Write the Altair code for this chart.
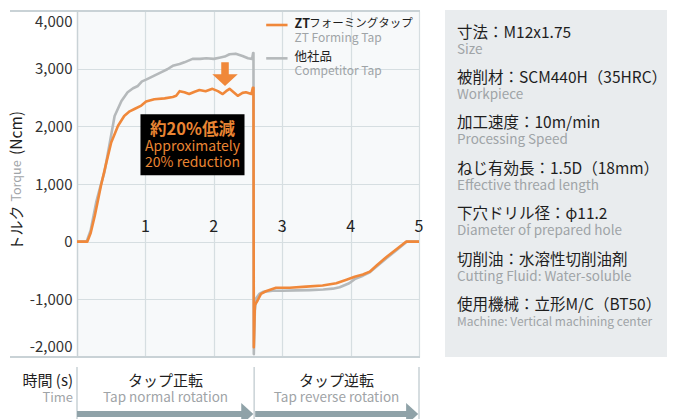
import altair as alt
import pandas as pd

FONT = "Noto Sans CJK JP"
ORANGE = "#f0883a"
ORANGE_TXT = "#ea8533"
GREY_LINE = "#b5b9bb"
GRID = "#d6dee1"
BORDER = "#c9d2d6"
BLACK = "#1e1e1e"
GREY_TXT = "#9fa4a7"
ARROW = "#8fa2a8"
PANEL = "#e9ecee"

# ---- data (time s, torque Ncm) ----
zt_t = [0, 0.15, 0.20, 0.26, 0.35, 0.43, 0.50, 0.60, 0.69, 0.77, 0.84, 0.94, 1.01, 1.13,
        1.28, 1.40, 1.45, 1.50, 1.57, 1.64, 1.72, 1.79, 1.88, 1.98, 2.06, 2.13, 2.18, 2.23,
        2.29, 2.35, 2.42, 2.47, 2.55, 2.57, 2.58, 2.585, 2.60, 2.64, 2.69, 2.76, 2.91, 3.11,
        3.35, 3.59, 3.79, 3.94, 4.06, 4.18, 4.28, 4.38, 4.52, 4.67, 4.81, 5.0]
zt_v = [0, 0, 150, 450, 970, 1375, 1720, 2010, 2180, 2260, 2300, 2360, 2430, 2470,
        2485, 2510, 2530, 2610, 2590, 2560, 2600, 2630, 2610, 2650, 2610, 2560, 2610, 2650,
        2590, 2530, 2580, 2590, 2560, 2670, 2670, -1830, -1100, -1020, -905, -860, -800, -800,
        -780, -760, -720, -660, -610, -570, -520, -415, -270, -130, 0, 0]

comp_t = [0, 0.14, 0.20, 0.28, 0.34, 0.40, 0.48, 0.55, 0.65, 0.74, 0.82, 0.89, 0.95, 1.01,
          1.13, 1.25, 1.32, 1.40, 1.50, 1.57, 1.69, 1.80, 1.89, 2.00, 2.08, 2.16, 2.23, 2.32,
          2.42, 2.50, 2.56, 2.575, 2.58, 2.585, 2.60, 2.62, 2.67, 2.72, 2.86, 3.0, 3.2, 3.4,
          3.6, 3.74, 3.84, 3.98, 4.06, 4.18, 4.28, 4.38, 4.52, 4.67, 4.82, 5.0]
comp_v = [0, 0, 200, 680, 950, 1200, 1720, 2180, 2440, 2590, 2660, 2700, 2780, 2810,
          2880, 2950, 2990, 3050, 3080, 3110, 3170, 3170, 3180, 3170, 3190, 3210, 3250, 3260,
          3220, 3180, 3170, 3270, 3270, -1950, -1200, -980, -900, -870, -850, -850, -845, -840,
          -830, -815, -790, -720, -650, -590, -530, -430, -290, -150, 0, 0]

series_jp = ["ZTフォーミングタップ", "他社品"]
series_en = ["ZT Forming Tap", "Competitor Tap"]
y_ticks = [-2000, -1000, 0, 1000, 2000, 3000, 4000]
x_ticks = [1, 2, 3, 4, 5]

phase_jp = ["タップ正転", "タップ逆転"]
phase_en = ["Tap normal rotation", "Tap reverse rotation"]
phase_start = [0, 2.59]
phase_end = [2.59, 5.0]

spec_jp = ["寸法：M12x1.75", "被削材：SCM440H（35HRC）", "加工速度：10m/min",
           "ねじ有効長：1.5D（18mm）", "下穴ドリル径：φ11.2", "切削油：水溶性切削油剤",
           "使用機械：立形M/C（BT50）"]
spec_en = ["Size", "Workpiece", "Processing Speed", "Effective thread length",
           "Diameter of prepared hole", "Cutting Fluid: Water-soluble",
           "Machine: Vertical machining center"]

W, H = 342, 346
PAD = {"left": 69, "top": 3, "right": 248, "bottom": 62}

xscale = alt.Scale(domain=[0, 5], nice=False, zero=False)
yscale = alt.Scale(domain=[-2000, 4000], nice=False, zero=False)

zt_df = pd.DataFrame({"t": zt_t, "v": zt_v, "i": range(len(zt_t))})
comp_df = pd.DataFrame({"t": comp_t, "v": comp_v, "i": range(len(comp_t))})

one = pd.DataFrame({"a": [0]})


def txt(label, x, y, size, color, align="left", baseline="middle", weight="normal", angle=0):
    return alt.Chart(pd.DataFrame({"label": [label]})).mark_text(
        align=align, baseline=baseline, fontSize=size, color=color,
        fontWeight=weight, font=FONT, angle=angle
    ).encode(x=x, y=y, text="label:N")


layers = []

# right panel background
layers.append(alt.Chart(one).mark_rect(color=PANEL).encode(
    x=alt.value(368), x2=alt.value(590), y=alt.value(-1), y2=alt.value(346)))

# competitor line (with axes)
layers.append(alt.Chart(comp_df).mark_line(color=GREY_LINE, strokeWidth=2.6, strokeJoin="round").encode(
    x=alt.X("t:Q", scale=xscale, axis=alt.Axis(values=x_ticks, grid=True, labels=False, ticks=False,
                                                domain=False, title=None, gridColor=GRID, gridWidth=1.2)),
    y=alt.Y("v:Q", scale=yscale, axis=alt.Axis(values=y_ticks, grid=True, gridColor=GRID,
                                                labelExpr="replace(format(datum.value, ',.0f'), '\u2212', '-')",
                                                gridWidth=1.2, ticks=False, tickSize=0, labelPadding=5,
                                                labelFontSize=15, labelColor="#333333", labelFont=FONT,
                                                labelFlush=True, labelFlushOffset=-3, domain=True,
                                                domainColor=BORDER, domainWidth=1.5, title=None)),
    order="i:Q"))

# ZT line
layers.append(alt.Chart(zt_df).mark_line(color=ORANGE, strokeWidth=2.6, strokeJoin="round").encode(
    x=alt.X("t:Q", scale=xscale), y=alt.Y("v:Q", scale=yscale), order="i:Q"))

# top / bottom borders extending left
for b in (4000, -2000):
    layers.append(alt.Chart(one).mark_rule(color=BORDER, strokeWidth=2).encode(
        y=alt.datum(b), x=alt.value(-67), x2=alt.value(343)))

# x tick labels inside plot
layers.append(alt.Chart(pd.DataFrame({"t": x_ticks, "lab": [str(k) for k in x_ticks]})).mark_text(
    fontSize=16, color="#222222", font=FONT, baseline="middle", align="center").encode(
    x=alt.X("t:Q", scale=xscale), y=alt.datum(254), text="lab:N"))

# annotation box
layers.append(alt.Chart(one).mark_rect(color="#000000").encode(
    x=alt.datum(0.928), x2=alt.datum(2.449), y=alt.datum(2210), y2=alt.datum(1150)))
layers.append(txt("約20%低減", alt.datum(1.689), alt.datum(1937), 16.5, ORANGE_TXT, align="center", weight="bold"))
layers.append(txt("Approximately", alt.datum(1.689), alt.datum(1642), 14, ORANGE_TXT, align="center"))
layers.append(txt("20% reduction", alt.datum(1.689), alt.datum(1364), 14, ORANGE_TXT, align="center"))

# down arrow
layers.append(alt.Chart(one).mark_point(
    shape="M-0.29,-0.92 L0.29,-0.92 L0.29,0 L0.98,0 L0,0.92 L-0.98,0 L-0.29,0 Z",
    filled=True, color=ORANGE, opacity=1, size=676, strokeWidth=0).encode(
    x=alt.datum(2.164), y=alt.datum(2905)))

# legend
layers.append(alt.Chart(one).mark_rule(color=ORANGE, strokeWidth=2.6).encode(
    x=alt.datum(2.766), x2=alt.datum(3.078), y=alt.datum(3757)))
layers.append(alt.Chart(one).mark_rule(color=GREY_LINE, strokeWidth=2.6).encode(
    x=alt.datum(2.766), x2=alt.datum(3.078), y=alt.datum(3179)))
layers.append(txt("ZT", alt.datum(3.18), alt.datum(3780), 12.5, BLACK, weight="bold"))
layers.append(txt(series_jp[0][2:], alt.datum(3.395), alt.datum(3780), 11.5, BLACK))
layers.append(txt(series_en[0], alt.datum(3.18), alt.datum(3525), 12, GREY_TXT))
layers.append(txt(series_jp[1], alt.datum(3.18), alt.datum(3205), 12.5, BLACK))
layers.append(txt(series_en[1], alt.datum(3.18), alt.datum(2955), 12, GREY_TXT))

# y-axis title (rotated pieces)
layers.append(txt("(Ncm)", alt.value(-60), alt.value(122), 15.5, BLACK, align="center", angle=270))
layers.append(txt("Torque", alt.value(-60), alt.value(170), 12.5, GREY_TXT, align="center", angle=270))
layers.append(txt("トルク", alt.value(-60), alt.value(217), 15, BLACK, align="center", angle=270))

# bottom: time label and phases
layers.append(txt("時間 (s)", alt.value(-4), alt.value(370), 15, BLACK, align="right"))
layers.append(txt("Time", alt.value(-4), alt.value(387), 13, GREY_TXT, align="right"))
for tsep in [phase_start[0], phase_start[1], phase_end[1]]:
    layers.append(alt.Chart(one).mark_rule(color=BORDER, strokeWidth=1.5).encode(
        x=alt.datum(tsep), y=alt.value(356), y2=alt.value(410)))
for k in range(2):
    s, e = phase_start[k], phase_end[k]
    mid = (s + e) / 2
    layers.append(txt(phase_jp[k], alt.datum(mid), alt.value(370), 15, BLACK, align="center"))
    layers.append(txt(phase_en[k], alt.datum(mid), alt.value(387), 13.5, GREY_TXT, align="center"))
    layers.append(alt.Chart(one).mark_rule(color=ARROW, strokeWidth=6).encode(
        x=alt.datum(s + (0.015 if k else 0)), x2=alt.datum(e - 0.1), y=alt.value(403)))
    layers.append(alt.Chart(one).mark_point(
        shape="M-0.55,-1 L0.55,0 L-0.55,1 Z", filled=True, color=ARROW, opacity=1,
        size=484, strokeWidth=0).encode(x=alt.datum(e - 0.1), y=alt.value(403)))

# right panel texts
for i, (jp, en) in enumerate(zip(spec_jp, spec_en)):
    layers.append(txt(jp, alt.value(380), alt.value(21.5 + 45.4 * i), 15.5, BLACK))
    layers.append(txt(en, alt.value(380), alt.value(38.5 + 45.4 * i),
                      12 if i == 6 else 13.5, GREY_TXT))

chart = alt.layer(*layers).properties(
    width=W, height=H, padding=PAD,
    autosize=alt.AutoSizeParams(type="none"),
    background="#ffffff",
).configure_view(fill="#f7f9fa", stroke="transparent")

chart.save("out.html", embed_options={"renderer": "svg", "actions": False})
